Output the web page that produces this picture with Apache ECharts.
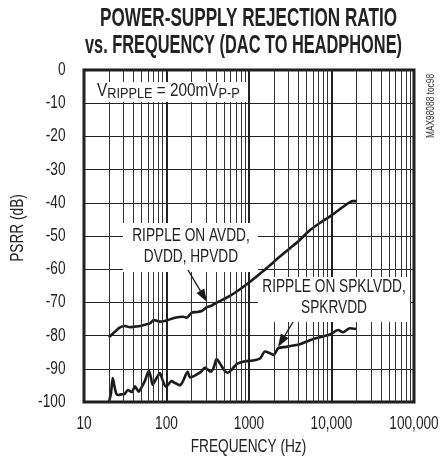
<!DOCTYPE html>
<html>
<head>
<meta charset="utf-8">
<script src="https://cdn.jsdelivr.net/npm/echarts@6/dist/echarts.min.js"></script>
<style>
html, body { margin: 0; padding: 0; background: #fff; }
#chart { width: 440px; height: 461px; }
</style>
</head>
<body>
<div id="chart"></div>
<script>
// PSRR vs frequency, DAC to headphone output
const xTicks = [10, 100, 1000, 10000, 100000];
const yTicks = [0, -10, -20, -30, -40, -50, -60, -70, -80, -90, -100];

// Ripple on AVDD, DVDD, HPVDD
const avddFreq = [20, 23.8, 27, 31.4, 36.1, 41, 47.7, 55, 63, 70, 83, 95, 105, 126, 160, 176, 202, 235, 267, 305, 350, 405, 535, 705, 1030, 1500, 2170, 2960, 4000, 5500, 7500, 9700, 12500, 15500, 18000, 20000];
const avddPsrr = [-80.5, -78.8, -77.6, -77.1, -77.5, -77.3, -77.1, -76.7, -76.3, -75.3, -75.8, -75.6, -75.3, -74.6, -74.3, -74.6, -73.1, -72.9, -72.6, -71.5, -71.0, -70.1, -68.6, -66.8, -63.8, -60.5, -57.0, -54.2, -51.5, -48.2, -45.8, -44.0, -42.0, -40.3, -39.5, -39.5];

// Ripple on SPKLVDD, SPKRVDD
const spkFreq = [20, 21.2, 22.3, 23.5, 24.7, 26, 28, 31, 34, 38, 41.5, 46, 50, 55, 61, 64.5, 68, 75, 83, 90, 98, 106, 115, 125, 135, 146, 160, 180, 193, 215, 243, 265, 293, 345, 375, 405, 450, 500, 550, 620, 706, 800, 900, 1120, 1370, 1560, 1750, 1980, 2270, 2800, 3400, 4140, 5000, 6000, 7500, 9700, 12000, 13800, 16700, 20000];
const spkPsrr = [-100, -97.5, -92.8, -95.5, -97.6, -97.9, -97.7, -97.6, -96.4, -97.0, -95.3, -96.9, -95.5, -93.5, -90.6, -92.5, -94.8, -93.0, -91.3, -93.5, -95.4, -94.6, -93.7, -94.2, -94.6, -95.0, -93.5, -90.9, -92.6, -92.2, -91.4, -90.8, -89.6, -90.9, -89.5, -87.1, -88.6, -90.4, -91.2, -90.2, -88.6, -88.0, -87.7, -87.5, -86.8, -84.8, -85.2, -85.8, -83.8, -83.4, -83.0, -82.6, -81.8, -81.0, -80.4, -79.6, -78.3, -79.0, -77.8, -78.0];

const FAMILY = '"Liberation Sans", Arial, Helvetica, sans-serif';
const INK = '#1a1a1a';
const TEXT = '#222';
const SX = 0.76;          // horizontal squeeze giving a condensed face

// Logarithmic minor grid: 2..9 in every decade
const minorFreq = [];
for (let d = xTicks[0]; d < xTicks[xTicks.length - 1]; d *= 10) {
  for (let k = 2; k <= 9; k++) minorFreq.push(k * d);
}

const measureCtx = document.createElement('canvas').getContext('2d');
function textWidth(str, font) {
  measureCtx.font = font;
  return measureCtx.measureText(str).width;
}
function fontOf(size, weight) {
  return (weight ? weight + ' ' : '') + size + 'px ' + FAMILY;
}
function label(str, x, y, size, opts) {
  opts = opts || {};
  return {
    type: 'text', x: x, y: y, z: 120,
    scaleX: opts.scaleX || SX,
    rotation: opts.rotation || 0,
    silent: true,
    style: {
      text: str,
      font: fontOf(size, opts.weight),
      fill: opts.fill || TEXT,
      textAlign: opts.align || 'center',
      textVerticalAlign: 'middle',
      lineHeight: opts.lineHeight
    }
  };
}

const chart = echarts.init(document.getElementById('chart'), null, { renderer: 'canvas' });

chart.setOption({
  animation: false,
  backgroundColor: '#fff',
  grid: { left: 84, right: 26, top: 70, bottom: 59, show: true, borderWidth: 3, borderColor: INK, backgroundColor: 'transparent' },
  xAxis: {
    type: 'log',
    logBase: 10,
    min: xTicks[0],
    max: xTicks[xTicks.length - 1],
    axisLine: { show: false },
    axisTick: { show: false },
    axisLabel: { show: false },
    splitLine: { show: true, lineStyle: { color: '#222', width: 2 } }
  },
  yAxis: {
    type: 'value',
    min: yTicks[yTicks.length - 1],
    max: yTicks[0],
    interval: 10,
    axisLine: { show: false },
    axisTick: { show: false },
    axisLabel: { show: false },
    splitLine: { show: true, lineStyle: { color: '#222', width: 1 } }
  },
  series: [
    {
      name: 'minor grid',
      type: 'line',
      data: [],
      silent: true,
      z: 1,
      markLine: {
        silent: true,
        symbol: ['none', 'none'],
        label: { show: false },
        lineStyle: { type: 'solid', color: '#333', width: 1 },
        emphasis: { disabled: true },
        data: minorFreq.map(f => ({ xAxis: f }))
      }
    },
    {
      name: 'AVDD, DVDD, HPVDD',
      type: 'line',
      data: avddFreq.map((f, i) => [f, avddPsrr[i]]),
      showSymbol: false,
      smooth: 0.25,
      z: 3,
      lineStyle: { color: INK, width: 2.6 }
    },
    {
      name: 'SPKLVDD, SPKRVDD',
      type: 'line',
      data: spkFreq.map((f, i) => [f, spkPsrr[i]]),
      showSymbol: false,
      smooth: 0.25,
      z: 3,
      lineStyle: { color: INK, width: 2.6 }
    }
  ]
});

// Tick labels placed through the axis scales
const toPx = v => chart.convertToPixel({ xAxisIndex: 0, yAxisIndex: 0 }, v);
const yBottom = toPx([xTicks[0], yTicks[yTicks.length - 1]])[1];
const xLeft = toPx([xTicks[0], yTicks[0]])[0];
const tickEls = [];
xTicks.forEach(v => {
  const px = toPx([v, yTicks[yTicks.length - 1]]);
  const txt = v >= 10000 ? v.toLocaleString('en-US') : String(v);
  tickEls.push(label(txt, px[0], yBottom + 22, 18));
});
yTicks.forEach(v => {
  const px = toPx([xTicks[0], v]);
  tickEls.push(label(String(v), xLeft - 18.5, px[1], 18, { align: 'right' }));
});

// Title, condensed to fit its line
const TITLE_FONT = fontOf(25, 'bold');
const title1 = 'POWER-SUPPLY REJECTION RATIO';
const title2 = 'vs. FREQUENCY (DAC TO HEADPHONE)';
const t1Scale = 297 / textWidth(title1, TITLE_FONT);
const t2Scale = 317 / textWidth(title2, TITLE_FONT);

// V_RIPPLE = 200mV_P-P with subscripts, laid out on a shared baseline
const VSX = 0.85;
const vrBaseline = 97;
const vrParts = [['V', 18, 0], ['RIPPLE', 15, 2], [' = 200mV', 18, 0], ['P-P', 15, 2]];
const vrEls = [];
let vx = 97;
vrParts.forEach(p => {
  const midY = vrBaseline + p[2] - 0.35 * p[1];
  vrEls.push(label(p[0], vx, midY, p[1], { align: 'left', scaleX: VSX }));
  vx += textWidth(p[0], fontOf(p[1])) * VSX;
});

function arrow(x1, y1, x2, y2) {
  const ang = Math.atan2(y2 - y1, x2 - x1);
  const len = 13, half = 4.5;
  const bx = x2 - len * Math.cos(ang), by = y2 - len * Math.sin(ang);
  const px = -Math.sin(ang) * half, py = Math.cos(ang) * half;
  return [
    { type: 'line', z: 130, silent: true, shape: { x1: x1, y1: y1, x2: bx, y2: by }, style: { stroke: INK, lineWidth: 1.3 } },
    { type: 'polygon', z: 130, silent: true, shape: { points: [[x2, y2], [bx + px, by + py], [bx - px, by - py]] }, style: { fill: INK } }
  ];
}

chart.setOption({
  graphic: [
    label(title1, 248.5, 19, 25, { weight: 'bold', scaleX: t1Scale }),
    label(title2, 243.5, 46, 25, { weight: 'bold', scaleX: t2Scale }),

    // white callout panels
    { type: 'rect', z: 110, silent: true, shape: { x: 90, y: 82, width: 157, height: 20 }, style: { fill: '#fff' } },
    { type: 'rect', z: 110, silent: true, shape: { x: 123, y: 223, width: 135, height: 49 }, style: { fill: '#fff' } },
    { type: 'rect', z: 110, silent: true, shape: { x: 258, y: 277, width: 152, height: 45 }, style: { fill: '#fff' } },

    ...vrEls,

    label('RIPPLE ON AVDD,\nDVDD, HPVDD', 191, 247, 18, { lineHeight: 21 }),
    label('RIPPLE ON SPKLVDD,\nSPKRVDD', 334, 298, 18, { lineHeight: 21 }),

    ...arrow(188, 270, 207, 302),
    ...arrow(293, 322, 278, 347),

    ...tickEls,

    label('PSRR (dB)', 18, 228, 18, { rotation: Math.PI / 2 }),
    label('FREQUENCY (Hz)', 248.5, 447, 18),
    label('MAX98088 toc98', 431, 106, 11, { rotation: Math.PI / 2, fill: '#333' })
  ]
});
</script>
</body>
</html>
